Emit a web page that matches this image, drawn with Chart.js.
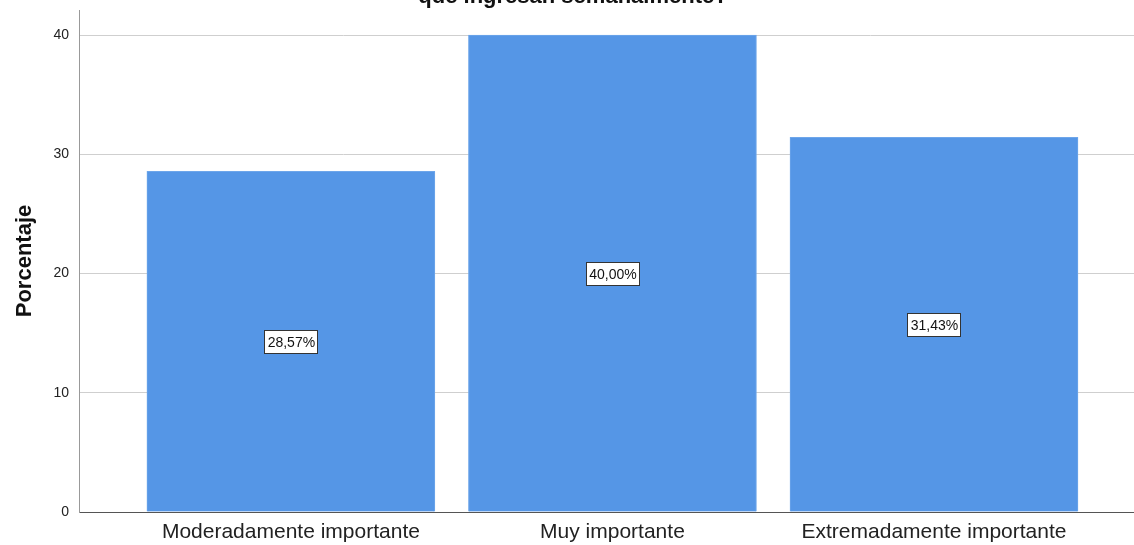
<!DOCTYPE html>
<html>
<head>
<meta charset="utf-8">
<script src="https://cdn.jsdelivr.net/npm/chart.js@4"></script>
<style>
  html, body { margin: 0; padding: 0; background: #fff; }
  #wrap { width: 1134px; height: 545px; position: relative; }
</style>
</head>
<body>
<div id="wrap"><canvas id="c"></canvas></div>
<script>
// Bar chart of answer shares, SPSS-style: the title's first line is cut off above the frame.
const CATEGORIES = ['Moderadamente importante', 'Muy importante', 'Extremadamente importante'];
const PERCENTAGES = [28.57, 40.00, 31.43];
const Y_TICKS = [0, 10, 20, 30, 40];
const TITLE_TAIL = 'que ingresan semanalmente?';

const FONT = '"Liberation Sans", Arial, sans-serif';
const BAR_COLOR = '#5596e6';

function pctLabel(value) {
  return value.toFixed(2).replace('.', ',') + '%';
}

// Boxed percentage label placed at the middle of each bar.
const boxLabelPlugin = {
  id: 'box-labels',
  afterDatasetsDraw(chart) {
    const ctx = chart.ctx;
    const meta = chart.getDatasetMeta(0);
    const yScale = chart.scales.y;
    ctx.save();
    ctx.font = '14px ' + FONT;
    ctx.textAlign = 'center';
    ctx.textBaseline = 'middle';
    meta.data.forEach((bar, i) => {
      const value = PERCENTAGES[i];
      const text = pctLabel(value);
      const y = yScale.getPixelForValue(value / 2);
      const w = Math.round(ctx.measureText(text).width + 6);
      const h = 23;
      const left = Math.round(bar.x - w / 2);
      const top = Math.round(y - h / 2);
      ctx.fillStyle = '#fff';
      ctx.fillRect(left, top, w, h);
      ctx.strokeStyle = '#333';
      ctx.lineWidth = 1;
      ctx.strokeRect(left + 0.5, top + 0.5, w, h);
      ctx.fillStyle = '#111';
      ctx.fillText(text, bar.x + 0.5, y + 1.5);
    });
    ctx.restore();
  }
};

// Only the bottom of the second title line shows at the top edge.
const cutTitlePlugin = {
  id: 'cut-title',
  afterDraw(chart) {
    const ctx = chart.ctx;
    ctx.save();
    ctx.font = 'bold 22px ' + FONT;
    ctx.fillStyle = '#111';
    ctx.textAlign = 'center';
    ctx.textBaseline = 'alphabetic';
    ctx.fillText(TITLE_TAIL, 573, 3);
    ctx.restore();
  }
};

new Chart(document.getElementById('c').getContext('2d'), {
  type: 'bar',
  data: {
    datasets: [{
      data: PERCENTAGES.map((v, i) => ({ x: i, y: v })),
      backgroundColor: BAR_COLOR,
      borderColor: '#6ea6ea',
      borderWidth: 1,
      barThickness: 288
    }]
  },
  options: {
    responsive: true,
    maintainAspectRatio: false,
    animation: false,
    parsing: false,
    layout: { padding: { top: 10, right: 0, left: 0, bottom: 0 } },
    plugins: {
      legend: { display: false },
      tooltip: { enabled: false },
      title: { display: false }
    },
    scales: {
      x: {
        type: 'linear',
        offset: false,
        min: -0.659,
        max: 2.622,
        afterBuildTicks(scale) {
          scale.ticks = CATEGORIES.map((_, i) => ({ value: i }));
        },
        afterFit(scale) {
          scale.height = 33;
          scale.paddingLeft = 0;
          scale.paddingRight = 0;
        },
        grid: { display: false, drawTicks: false },
        border: { color: '#555', width: 1 },
        ticks: {
          padding: 8,
          color: '#222',
          font: { family: FONT, size: 21 },
          maxRotation: 0,
          autoSkip: false,
          callback: (value) => CATEGORIES[value] || ''
        }
      },
      y: {
        min: 0,
        max: 42.1,
        afterBuildTicks(scale) {
          scale.ticks = Y_TICKS.map((v) => ({ value: v }));
        },
        afterFit(scale) {
          scale.width = 79;
          scale.paddingTop = 0;
          scale.paddingBottom = 0;
        },
        grid: {
          drawTicks: false,
          color: (ctx) => (ctx.tick && ctx.tick.value === 0 ? 'rgba(0,0,0,0)' : '#cfcfcf'),
          lineWidth: 1
        },
        border: { color: '#999', width: 1 },
        ticks: {
          padding: 10,
          color: '#222',
          font: { family: FONT, size: 14 }
        },
        title: {
          display: true,
          text: 'Porcentaje',
          color: '#111',
          font: { family: FONT, size: 22, weight: 'bold' },
          padding: { top: 12, bottom: 0 }
        }
      }
    }
  },
  plugins: [boxLabelPlugin, cutTitlePlugin]
});
</script>
</body>
</html>
